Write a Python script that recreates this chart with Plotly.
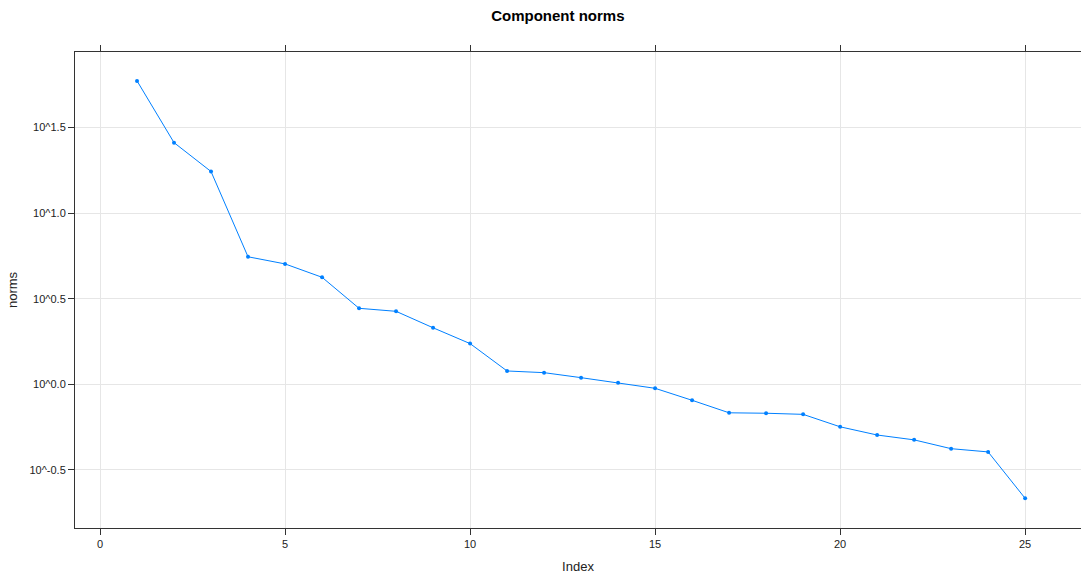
import plotly.graph_objects as go

index = list(range(1, 26))
norms = [59.2, 25.8, 17.5, 5.56, 5.05, 4.22, 2.78, 2.67, 2.14, 1.73,
         1.197, 1.17, 1.094, 1.021, 0.948, 0.807, 0.682, 0.678, 0.668, 0.565,
         0.506, 0.474, 0.421, 0.403, 0.216]

x_ticks = [0, 5, 10, 15, 20, 25]
y_tick_exps = [-0.5, 0.0, 0.5, 1.0, 1.5]
y_tick_labels = ["10^-0.5", "10^0.0", "10^0.5", "10^1.0", "10^1.5"]

FONT = "Liberation Sans, Arial, sans-serif"

fig = go.Figure()
fig.add_trace(go.Scatter(
    x=index, y=norms, mode="lines+markers",
    line=dict(color="#0080ff", width=1),
    marker=dict(color="#0080ff", size=4),
    showlegend=False,
))

fig.update_layout(
    width=1081, height=580,
    margin=dict(l=75, r=0, t=52, b=52),
    paper_bgcolor="white", plot_bgcolor="white",
    font=dict(family=FONT, color="#000000"),
    title=dict(text="<b>Component norms</b>", x=0.48, xref="paper", xanchor="center",
               y=1 - 16 / 580, yanchor="middle",
               font=dict(size=15, family=FONT, color="#000000")),
)

fig.update_xaxes(
    range=[-0.676, 26.51], tickmode="array", tickvals=x_ticks,
    ticktext=[str(v) for v in x_ticks],
    showgrid=True, gridcolor="#e6e6e6", gridwidth=1, zeroline=False,
    showline=True, linecolor="#333333", linewidth=1, mirror="ticks",
    ticks="outside", ticklen=6, tickcolor="#333333", tickwidth=1,
    tickfont=dict(size=11, color="#222222"),
    title=dict(text="Index", font=dict(size=13, color="#222222"), standoff=12),
    automargin=False,
)

fig.update_yaxes(
    type="log", range=[-0.839, 1.941], tickmode="array",
    tickvals=[10 ** e for e in y_tick_exps], ticktext=y_tick_labels,
    showgrid=True, gridcolor="#e6e6e6", gridwidth=1, zeroline=False,
    showline=True, linecolor="#333333", linewidth=1, mirror=False,
    ticks="outside", ticklen=6, tickcolor="#333333", tickwidth=1,
    tickfont=dict(size=11, color="#222222"),
    title=dict(text="norms", font=dict(size=13, color="#222222"), standoff=8),
    automargin=False,
)

fig.write_html("out.html")
